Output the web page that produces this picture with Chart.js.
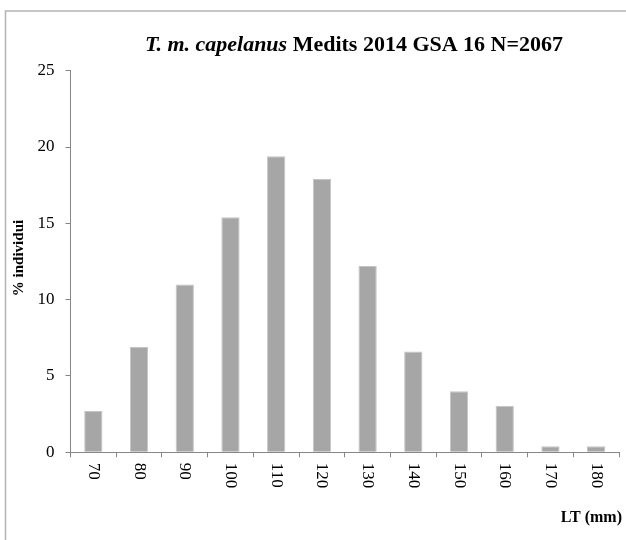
<!DOCTYPE html>
<html>
<head>
<meta charset="utf-8">
<script src="https://cdn.jsdelivr.net/npm/chart.js@4/dist/chart.umd.min.js"></script>
<style>
  body { margin: 0; background: #fff; }
  canvas { display: block; }
</style>
</head>
<body>
<canvas id="myChart" width="626" height="540"></canvas>
<script>
// data
const lengthClasses = ['70', '80', '90', '100', '110', '120', '130', '140', '150', '160', '170', '180'];
const percentIndividui = [2.7, 6.9, 11.0, 15.4, 19.4, 17.9, 12.2, 6.6, 4.0, 3.05, 0.4, 0.4];
const yTicks = [0, 5, 10, 15, 20, 25];

const titleItalic = 'T. m. capelanus';
const titleRest = ' Medits 2014 GSA 16 N=2067';
const yTitle = '% individui';
const xTitle = 'LT (mm)';

const serif = "'Liberation Serif', 'Times New Roman', serif";
const axisColor = '#868686';

//draws the frame, title, axis titles and the rotated category labels
const extrasPlugin = {
    id: 'extras',
    afterDraw(chart) {
        const ctx = chart.ctx;
        const xScale = chart.scales.x;
        ctx.save();

        // outer frame
        ctx.strokeStyle = '#b4b4b4';
        ctx.lineWidth = 1.5;
        ctx.beginPath();
        ctx.moveTo(5.5, 560);
        ctx.lineTo(5.5, 11);
        ctx.lineTo(640, 11);
        ctx.stroke();

        // title, italic part + bold part, stretched to the width seen in the picture
        ctx.fillStyle = '#000';
        ctx.textBaseline = 'alphabetic';
        ctx.textAlign = 'left';
        ctx.font = 'italic bold 20px ' + serif;
        const w1 = ctx.measureText(titleItalic).width;
        ctx.font = 'bold 20px ' + serif;
        const w2 = ctx.measureText(titleRest).width;
        const sx = 418 / (w1 + w2);
        ctx.save();
        ctx.translate(145, 51);
        ctx.scale(sx, 1);
        ctx.font = 'italic bold 20px ' + serif;
        ctx.fillText(titleItalic, 0, 0);
        ctx.font = 'bold 20px ' + serif;
        ctx.fillText(titleRest, w1, 0);
        ctx.restore();

        // y axis title
        ctx.save();
        ctx.translate(19.5, 258);
        ctx.rotate(-Math.PI / 2);
        ctx.textAlign = 'center';
        ctx.textBaseline = 'middle';
        ctx.font = 'bold 15px ' + serif;
        ctx.fillText(yTitle, 0, 0);
        ctx.restore();

        // x tick labels, turned clockwise
        ctx.font = '17px ' + serif;
        ctx.textAlign = 'left';
        ctx.textBaseline = 'middle';
        lengthClasses.forEach((lab, i) => {
            const px = xScale.getPixelForTick(i);
            ctx.save();
            ctx.translate(px, xScale.top + 10.5);
            ctx.rotate(Math.PI / 2);
            ctx.fillText(lab, 0, 0);
            ctx.restore();
        });

        // x axis title
        ctx.font = 'bold 16px ' + serif;
        ctx.textAlign = 'right';
        ctx.textBaseline = 'alphabetic';
        ctx.fillText(xTitle, 622, 521.5);

        ctx.restore();
    }
};

const ctx = document.getElementById('myChart').getContext('2d');
const myChart = new Chart(ctx, {
    type: 'bar',
    data: {
        labels: lengthClasses,
        datasets: [{
            data: percentIndividui,
            backgroundColor: '#a6a6a6',
            borderColor: '#c4c4c4',
            borderWidth: 1,
            barPercentage: 0.4,
            categoryPercentage: 1
        }]
    },
    options: {
        responsive: false,
        animation: false,
        devicePixelRatio: 1,
        layout: { padding: { left: 0, top: 70.7, right: 7, bottom: 87.7 } },
        plugins: {
            legend: { display: false },
            title: { display: false },
            tooltip: { enabled: false }
        },
        scales: {
            x: {
                type: 'category',
                grid: { offset: true, drawOnChartArea: false, drawTicks: true, tickLength: 5, color: axisColor },
                border: { color: axisColor },
                ticks: { display: false },
                afterFit(s) { s.height = 0; }
            },
            y: {
                min: 0,
                max: 25,
                afterBuildTicks(s) { s.ticks = yTicks.map(v => ({ value: v })); },
                grid: { drawOnChartArea: false, drawTicks: true, tickLength: 5, color: axisColor },
                border: { color: axisColor },
                ticks: { color: '#000', padding: 11, font: { family: serif, size: 17 } },
                afterFit(s) { s.width = 70.5; }
            }
        }
    },
    plugins: [extrasPlugin]
});
</script>
</body>
</html>
